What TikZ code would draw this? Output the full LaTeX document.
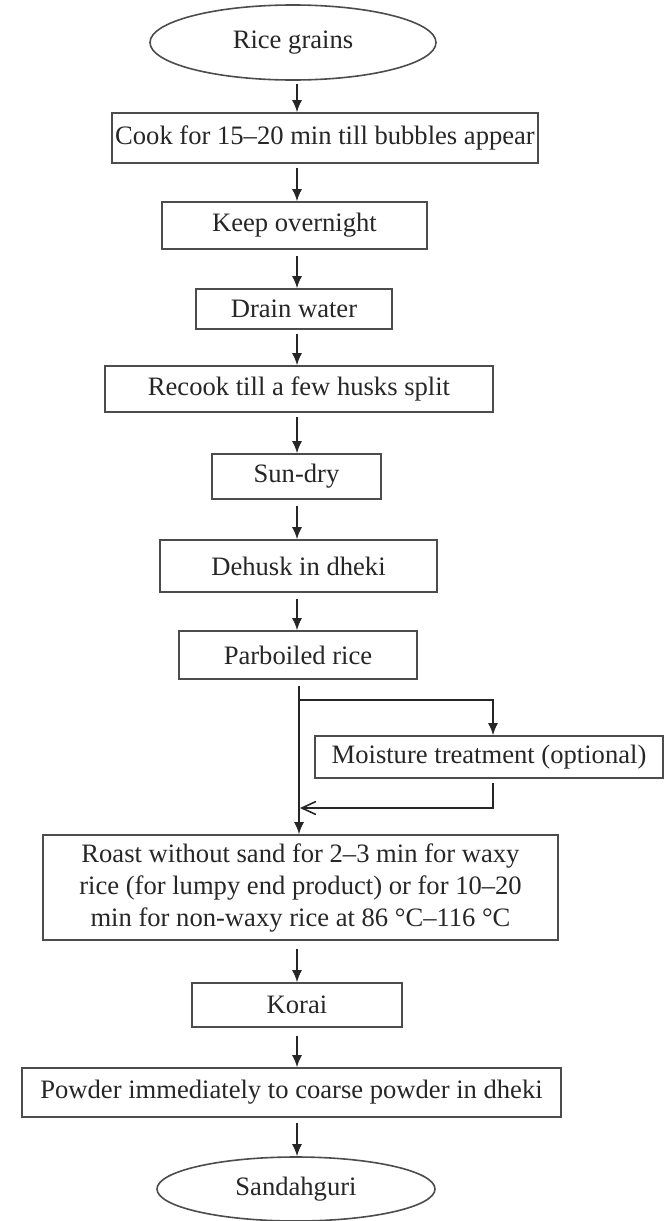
\documentclass[tikz,border=0pt]{standalone}
\usepackage{fontspec}
\setmainfont{Liberation Serif}
\usetikzlibrary{arrows.meta,shapes.geometric}
\begin{document}
\begin{tikzpicture}[x=0.5pt,y=-0.5pt,
  box/.style={draw=black!70, line width=0.8pt, inner sep=0pt, align=center,
    font=\fontsize{13.3}{16}\selectfont, text=black!85},
  oval/.style={box, ellipse},
  arr/.style={draw=black!85, line width=0.8pt, -{Latex[length=6pt,width=5pt]}},
  openarr/.style={draw=black!85, line width=0.8pt, -{Straight Barb[length=7pt,width=6.5pt]}}]
\useasboundingbox (0,0) rectangle (665,1221);
\node[oval, minimum width=143pt, minimum height=37.5pt] (rice) at (293,42.5) {Rice grains};
\node[box, minimum width=213pt, minimum height=25pt] (cook) at (325,138) {Cook for 15–20 min till bubbles appear};
\node[box, minimum width=132.5pt, minimum height=23.5pt] (keep) at (294.5,225.5) {Keep overnight};
\node[box, minimum width=98pt, minimum height=20pt] (drain) at (294,309) {Drain water};
\node[box, minimum width=194pt, minimum height=23pt] (recook) at (299,389) {Recook till a few husks split};
\node[box, minimum width=84.5pt, minimum height=22.5pt] (sundry) at (296.5,476.5) {Sun-dry};
\node[box, minimum width=138.5pt, minimum height=26pt] (dehusk) at (298.5,566) {Dehusk in dheki};
\node[box, minimum width=119pt, minimum height=24pt] (parb) at (298,655) {Parboiled rice};
\node[box, minimum width=174pt, minimum height=21pt] (moist) at (489,757) {Moisture treatment (optional)};
\node[box, minimum width=257.5pt, minimum height=52.5pt] (roast) at (300.5,887.5)
  {Roast without sand for 2–3 min for waxy\\rice (for lumpy end product) or for 10–20\\min for non-waxy rice at 86 °C–116 °C};
\node[box, minimum width=105pt, minimum height=22pt] (korai) at (297,1005) {Korai};
\node[box, minimum width=269.5pt, minimum height=24.5pt] (powder) at (291.5,1092.5) {Powder immediately to coarse powder in dheki};
\node[oval, minimum width=139pt, minimum height=32pt] (sand) at (296,1189) {Sandahguri};
\coordinate (ax) at (297,0);
\coordinate (bx) at (299,0);
\coordinate (mx) at (493,0);
\coordinate (br) at (299,700);
\coordinate (ret) at (300,808);
\draw[arr] ([yshift=-1.5pt]rice.south -| ax) -- (cook.north -| ax);
\draw[arr] ([yshift=-2pt]cook.south -| ax) -- (keep.north -| ax);
\draw[arr] ([yshift=-3pt]keep.south -| ax) -- (drain.north -| ax);
\draw[arr] ([yshift=-2pt]drain.south -| ax) -- (recook.north -| ax);
\draw[arr] ([yshift=-2pt]recook.south -| ax) -- (sundry.north -| ax);
\draw[arr] ([yshift=-3pt]sundry.south -| ax) -- (dehusk.north -| ax);
\draw[arr] ([yshift=-3pt]dehusk.south -| ax) -- (parb.north -| ax);
\draw[arr] ([yshift=-3pt]parb.south -| bx) -- (roast.north -| bx);
\draw[arr] (br) -| (moist.north -| mx);
\draw[openarr] ([yshift=-2pt]moist.south -| mx) |- (ret);
\draw[arr] ([yshift=-4pt]roast.south -| ax) -- (korai.north -| ax);
\draw[arr] ([yshift=-4pt]korai.south -| ax) -- (powder.north -| ax);
\draw[arr] ([yshift=-2.5pt]powder.south -| ax) -- (sand.north -| ax);
\end{tikzpicture}
\end{document}
